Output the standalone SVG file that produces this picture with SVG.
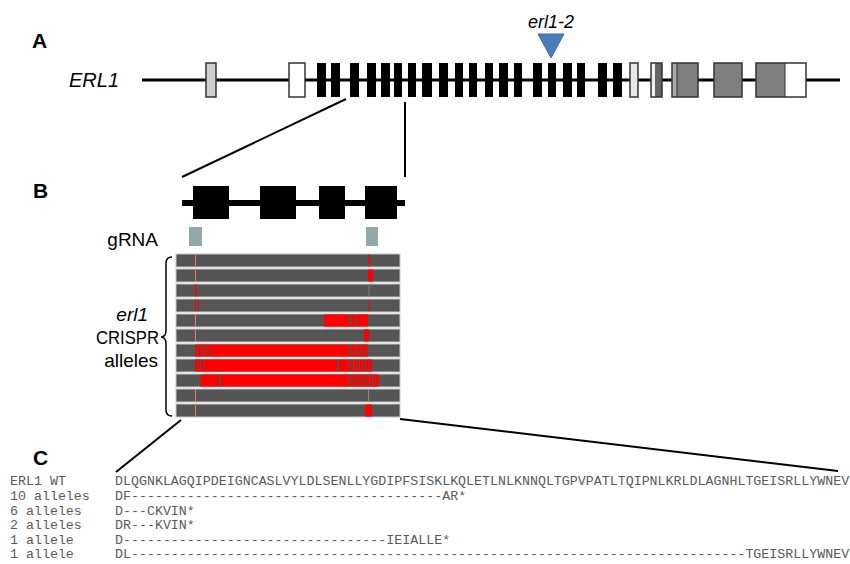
<svg xmlns="http://www.w3.org/2000/svg" width="850" height="564" viewBox="0 0 850 564">
<style>
.lbl{font-family:"Liberation Sans",Arial,sans-serif;fill:#000}
.pan{font-family:"Liberation Sans",Arial,sans-serif;font-weight:bold;font-size:21px;fill:#000}
.seq{font-family:"Liberation Mono","Courier New",monospace;font-size:13.3px;fill:#5a5a5a}
.blk{fill:#000}
.ex{stroke:#333;stroke-width:1.5}
.bar{fill:#555;stroke:#c8c8c8;stroke-width:1}
.r{fill:#ff0000}
.pk{fill:#e87878}
.dk{fill:#555}
.conn{stroke:#000;stroke-width:2;fill:none}
</style>
<rect width="850" height="564" fill="#fff"/>

<g id="panel-labels">
<text class="pan" x="32" y="48">A</text>
<text class="pan" x="33" y="198">B</text>
<text class="pan" x="33" y="465">C</text>
</g>

<g id="gene-A">
<text class="lbl" x="69" y="87" font-size="20" font-style="italic">ERL1</text>
<line x1="142" y1="80" x2="840" y2="80" stroke="#000" stroke-width="3"/>
<rect class="ex" x="206" y="63" width="10" height="34" fill="#d0d0d0"/>
<rect class="ex" x="289" y="63" width="16" height="34" fill="#fff"/>
<g class="blk">
<rect x="317" y="63" width="9" height="34"/>
<rect x="331" y="63" width="9" height="34"/>
<rect x="350" y="63" width="9" height="34"/>
<rect x="367" y="63" width="9" height="34"/>
<rect x="381" y="63" width="9" height="34"/>
<rect x="394" y="63" width="8" height="34"/>
<rect x="408" y="63" width="8" height="34"/>
<rect x="422" y="63" width="10" height="34"/>
<rect x="439" y="63" width="9" height="34"/>
<rect x="455" y="63" width="8" height="34"/>
<rect x="469" y="63" width="8" height="34"/>
<rect x="485" y="63" width="8" height="34"/>
<rect x="499" y="63" width="9" height="34"/>
<rect x="514" y="63" width="8" height="34"/>
<rect x="533" y="63" width="9" height="34"/>
<rect x="548" y="63" width="8" height="34"/>
<rect x="563" y="63" width="9" height="34"/>
<rect x="577" y="63" width="8" height="34"/>
<rect x="598" y="63" width="9" height="34"/>
<rect x="613" y="63" width="9" height="34"/>
</g>
<rect class="ex" x="630" y="63" width="8" height="34" fill="#e8e8e8"/>
<rect x="651" y="63" width="4" height="34" fill="#eeeeee"/>
<rect x="655" y="63" width="7" height="34" fill="#666"/>
<rect class="ex" x="651" y="63" width="11" height="34" fill="none"/>
<rect x="672" y="63" width="5" height="34" fill="#aaa"/>
<rect x="677" y="63" width="21" height="34" fill="#808080"/>
<line x1="677" y1="63" x2="677" y2="97" stroke="#333" stroke-width="1"/>
<rect class="ex" x="672" y="63" width="26" height="34" fill="none"/>
<rect class="ex" x="714" y="63" width="28" height="34" fill="#808080"/>
<rect x="756" y="63" width="29" height="34" fill="#808080"/>
<rect x="785" y="63" width="21" height="34" fill="#fff"/>
<line x1="785" y1="63" x2="785" y2="97" stroke="#333" stroke-width="1"/>
<rect class="ex" x="756" y="63" width="50" height="34" fill="none"/>
</g>

<g id="erl1-2">
<polygon points="538,34 564,34 551,58" fill="#4a7ebb" stroke="#3d6ca6" stroke-width="1"/>
<text class="lbl" x="551" y="28" font-size="18" font-style="italic" text-anchor="middle">erl1-2</text>
</g>

<g id="gene-B">
<line x1="182" y1="203" x2="405" y2="203" stroke="#000" stroke-width="6"/>
<rect class="blk" x="193" y="186" width="36" height="33"/>
<rect class="blk" x="260" y="186" width="36" height="33"/>
<rect class="blk" x="319" y="186" width="26" height="33"/>
<rect class="blk" x="365" y="186" width="32" height="33"/>
</g>

<g id="gRNA">
<text class="lbl" x="158" y="246" font-size="19" text-anchor="end">gRNA</text>
<rect x="189" y="227" width="13" height="19" fill="#8fa9a8"/>
<rect x="366" y="227" width="12" height="19" fill="#8fa9a8"/>
</g>

<g id="alleles-label">
<text class="lbl" x="148" y="321" font-size="19" font-style="italic" text-anchor="end">erl1</text>
<text class="lbl" x="159" y="344" font-size="19" text-anchor="end" textLength="63" lengthAdjust="spacingAndGlyphs">CRISPR</text>
<text class="lbl" x="158" y="367" font-size="19" text-anchor="end">alleles</text>
<path d="M172,257 Q166,257 166,263 L166,330 Q166,337 161,337 Q166,337 166,344 L166,410 Q166,416 172,416" fill="none" stroke="#000" stroke-width="1.5"/>
</g>

<g id="allele-bars">
<rect class="bar" x="176" y="254" width="224" height="13"/>
<rect class="bar" x="176" y="269" width="224" height="13"/>
<rect class="bar" x="176" y="284" width="224" height="13"/>
<rect class="bar" x="176" y="299" width="224" height="13"/>
<rect class="bar" x="176" y="314" width="224" height="13"/>
<rect class="bar" x="176" y="329" width="224" height="13"/>
<rect class="bar" x="176" y="344" width="224" height="13"/>
<rect class="bar" x="176" y="359" width="224" height="13"/>
<rect class="bar" x="176" y="374" width="224" height="13"/>
<rect class="bar" x="176" y="389" width="224" height="13"/>
<rect class="bar" x="176" y="404" width="224" height="13"/>
<!-- row 0 -->
<rect class="pk" x="195" y="254.5" width="1" height="12"/>
<rect class="r" x="368.5" y="254.5" width="1.5" height="12"/>
<!-- row 1 -->
<rect class="pk" x="195" y="269.5" width="1" height="12"/>
<rect class="r" x="368" y="269.5" width="5" height="12"/>
<!-- row 2 -->
<rect class="r" x="195" y="284.5" width="1.5" height="12"/>
<rect x="368.5" y="284.5" width="1" height="12" fill="#7a7a7a"/>
<!-- row 3 -->
<rect class="r" x="195" y="299.5" width="1" height="12"/>
<rect class="r" x="198" y="299.5" width="1" height="12"/>
<rect class="r" x="368.5" y="299.5" width="1" height="12"/>
<!-- row 4 -->
<rect class="pk" x="195" y="314.5" width="1" height="12"/>
<rect class="r" x="324" y="314.5" width="44" height="12"/>
<rect class="dk" x="349" y="314.5" width="1" height="12"/>
<rect class="dk" x="351" y="314.5" width="1" height="12"/>
<rect class="dk" x="355" y="314.5" width="0.8" height="12"/>
<rect class="dk" x="357.5" y="314.5" width="0.8" height="12"/>
<!-- row 5 -->
<rect class="pk" x="195" y="329.5" width="1" height="12"/>
<rect class="r" x="364" y="329.5" width="5" height="12"/>
<!-- row 6 -->
<rect class="r" x="195" y="344.5" width="173" height="12"/>
<rect class="dk" x="197" y="344.5" width="1" height="12"/>
<rect class="dk" x="200" y="344.5" width="0.8" height="12"/>
<rect class="dk" x="203" y="344.5" width="1" height="12"/>
<rect class="dk" x="206.5" y="344.5" width="0.8" height="12"/>
<rect class="dk" x="209.5" y="344.5" width="1" height="12"/>
<rect class="dk" x="348" y="344.5" width="1.2" height="12"/>
<rect class="dk" x="351" y="344.5" width="0.8" height="12"/>
<rect class="dk" x="354" y="344.5" width="1" height="12"/>
<rect class="dk" x="357" y="344.5" width="0.8" height="12"/>
<rect class="dk" x="360" y="344.5" width="1" height="12"/>
<rect class="dk" x="363" y="344.5" width="0.8" height="12"/>
<rect class="dk" x="366" y="344.5" width="0.8" height="12"/>
<!-- row 7 -->
<rect class="r" x="195" y="359.5" width="177" height="12"/>
<rect class="dk" x="197.5" y="359.5" width="0.8" height="12"/>
<rect class="dk" x="200" y="359.5" width="1" height="12"/>
<rect class="dk" x="203.5" y="359.5" width="0.8" height="12"/>
<rect class="dk" x="337" y="359.5" width="2" height="12"/>
<rect class="dk" x="348" y="359.5" width="1" height="12"/>
<rect class="dk" x="350.5" y="359.5" width="0.8" height="12"/>
<rect class="dk" x="353" y="359.5" width="1" height="12"/>
<rect class="dk" x="356" y="359.5" width="0.8" height="12"/>
<rect class="dk" x="359" y="359.5" width="1" height="12"/>
<rect class="dk" x="362" y="359.5" width="0.8" height="12"/>
<rect class="dk" x="365" y="359.5" width="1" height="12"/>
<rect class="dk" x="368.5" y="359.5" width="0.8" height="12"/>
<!-- row 8 -->
<rect class="r" x="200.7" y="374.5" width="178.3" height="12"/>
<rect class="dk" x="219" y="374.5" width="2" height="12"/>
<rect class="dk" x="348" y="374.5" width="1" height="12"/>
<rect class="dk" x="350.5" y="374.5" width="0.8" height="12"/>
<rect class="dk" x="353.5" y="374.5" width="1" height="12"/>
<rect class="dk" x="356.5" y="374.5" width="0.8" height="12"/>
<rect class="dk" x="359.5" y="374.5" width="1" height="12"/>
<rect class="dk" x="362.5" y="374.5" width="0.8" height="12"/>
<rect class="dk" x="365.5" y="374.5" width="1" height="12"/>
<rect class="dk" x="369" y="374.5" width="0.8" height="12"/>
<rect class="dk" x="372" y="374.5" width="1" height="12"/>
<rect class="dk" x="375" y="374.5" width="0.8" height="12"/>
<!-- row 9 -->
<rect class="pk" x="195" y="389.5" width="1" height="12"/>
<rect x="368" y="389.5" width="1" height="12" fill="#888"/>
<!-- row 10 -->
<rect class="pk" x="195" y="404.5" width="1" height="12"/>
<rect class="r" x="365" y="404.5" width="7" height="12"/>
</g>

<g id="connectors">
<line class="conn" x1="346" y1="99" x2="182" y2="177"/>
<line class="conn" x1="405" y1="102" x2="405" y2="177"/>
<line class="conn" x1="181" y1="420" x2="116" y2="472"/>
<line class="conn" x1="400" y1="419" x2="838" y2="471"/>
</g>

<g id="alignment">
<text class="seq" x="10" y="485">ERL1 WT</text>
<text class="seq" x="10" y="500">10 alleles</text>
<text class="seq" x="10" y="514.5">6 alleles</text>
<text class="seq" x="10" y="529">2 alleles</text>
<text class="seq" x="10" y="543.5">1 allele</text>
<text class="seq" x="10" y="558">1 allele</text>
<text class="seq" x="115" y="485">DLQGNKLAGQIPDEIGNCASLVYLDLSENLLYGDIPFSISKLKQLETLNLKNNQLTGPVPATLTQIPNLKRLDLAGNHLTGEISRLLYWNEV</text>
<text class="seq" x="115" y="500">DF---------------------------------------<tspan x="442.2">AR*</tspan></text>
<text class="seq" x="115" y="514.5">D---CKVIN*</text>
<text class="seq" x="115" y="529">DR---KVIN*</text>
<text class="seq" x="115" y="543.5">D---------------------------------<tspan x="386.3">IEIALLE*</tspan></text>
<text class="seq" x="115" y="558">DL-----------------------------------------------------------------------------<tspan x="745.4">TGEISRLLYWNEV</tspan></text>
</g>
</svg>
